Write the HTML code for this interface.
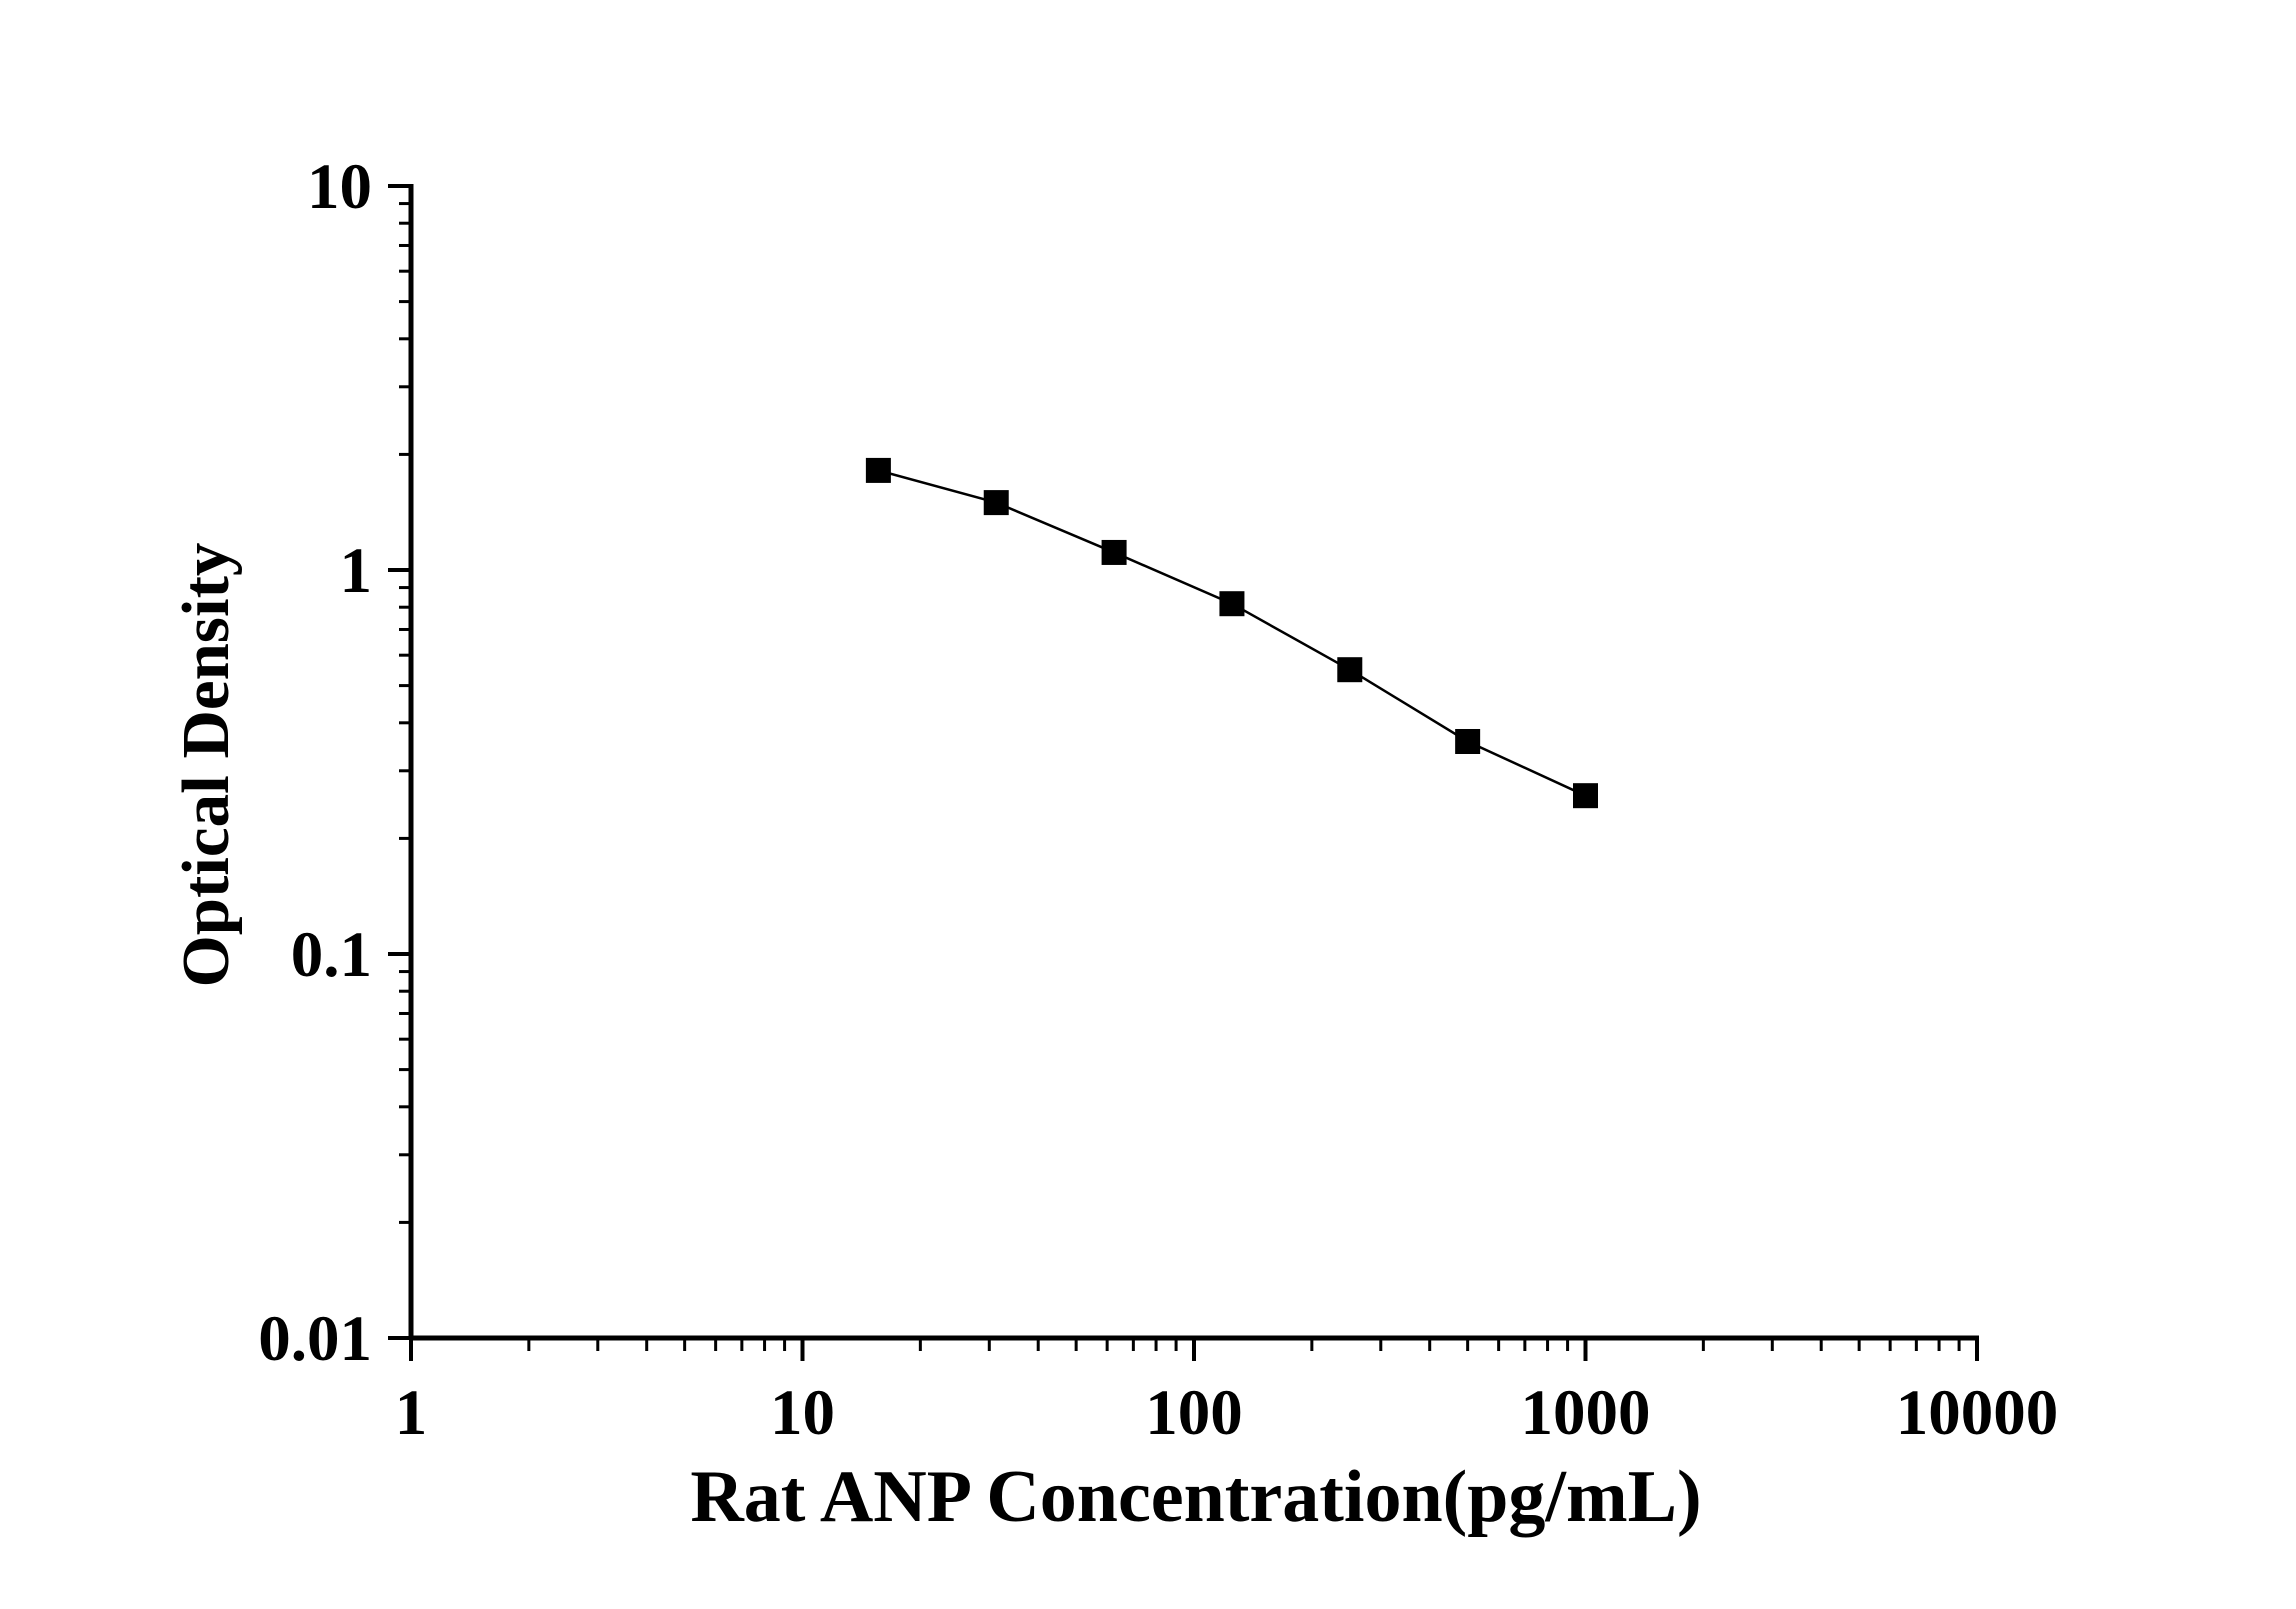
<!DOCTYPE html>
<html><head><meta charset="utf-8"><style>html,body{margin:0;padding:0;background:#fff}</style></head>
<body>
<svg width="2296" height="1604" viewBox="0 0 2296 1604" xmlns="http://www.w3.org/2000/svg" font-family="Liberation Serif, serif" font-weight="bold">
<rect width="2296" height="1604" fill="#fff"/>
<g id="g"></g>
<script>
var X0=411,XD=391.5,Y1=570,YD=384,ns="http://www.w3.org/2000/svg",g=document.getElementById('g');
function el(t,a,txt){var e=document.createElementNS(ns,t);for(var k in a)e.setAttribute(k,a[k]);if(txt)e.textContent=txt;g.appendChild(e);return e;}
function px(v){return X0+Math.log10(v)*XD}
function py(v){return Y1-Math.log10(v)*YD}
el('line',{x1:X0,y1:py(10)-2,x2:X0,y2:1340,stroke:'#000','stroke-width':5});
el('line',{x1:X0-2,y1:1338,x2:1979,y2:1338,stroke:'#000','stroke-width':5});
for(var d=0;d<=4;d++){var b=Math.pow(10,d);
 el('line',{x1:px(b),y1:1338,x2:px(b),y2:1361,stroke:'#000','stroke-width':4});
 el('text',{x:px(b),y:1434,'font-size':65,'text-anchor':'middle'},String(b));
 if(d<4)for(var m=2;m<=9;m++)el('line',{x1:px(b*m),y1:1338,x2:px(b*m),y2:1351,stroke:'#000','stroke-width':3});}
var yl=['0.01','0.1','1','10'];
for(var d=-2;d<=1;d++){var b=Math.pow(10,d);
 el('line',{x1:388,y1:py(b),x2:X0,y2:py(b),stroke:'#000','stroke-width':4});
 el('text',{x:372,y:py(b)+22,'font-size':65,'text-anchor':'end'},yl[d+2]);
 if(d<1)for(var m=2;m<=9;m++)el('line',{x1:399,y1:py(b*m),x2:X0,y2:py(b*m),stroke:'#000','stroke-width':3});}
var xs=[15.625,31.25,62.5,125,250,500,1000],ys=[1.817,1.498,1.111,0.817,0.55,0.3576,0.2584];
var pts=xs.map(function(x,i){return px(x)+','+py(ys[i])}).join(' ');
el('polyline',{points:pts,fill:'none',stroke:'#000','stroke-width':2.5});
xs.forEach(function(x,i){el('rect',{x:px(x)-12.5,y:py(ys[i])-12.5,width:25,height:25,fill:'#000'})});
el('text',{x:1196,y:1521,'font-size':74,'text-anchor':'middle'},'Rat ANP Concentration(pg/mL)');
el('text',{x:0,y:0,'font-size':67,'text-anchor':'middle',transform:'translate(228,765) rotate(-90)'},'Optical Density');
</script>
</svg>
</body></html>
